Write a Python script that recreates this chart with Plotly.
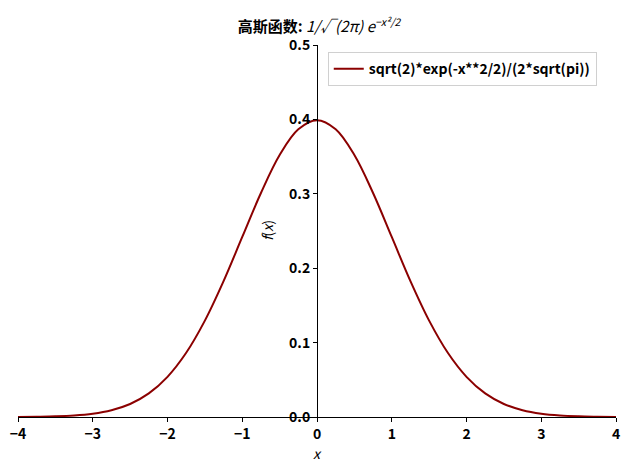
import plotly.graph_objects as go

# Points
x_vals = [-4.0, -3.75, -3.5, -3.25, -3.0, -2.75, -2.5, -2.25, -2.0, -1.75, -1.5, -1.25, -1.0,
          -0.75, -0.5, -0.25, 0.0, 0.25, 0.5, 0.75, 1.0, 1.25, 1.5, 1.75, 2.0, 2.25, 2.5,
          2.75, 3.0, 3.25, 3.5, 3.75, 4.0]
y_vals = [0.0001, 0.0004, 0.0009, 0.002, 0.0044, 0.0091, 0.0175, 0.0317, 0.054, 0.0863,
          0.1295, 0.1826, 0.242, 0.3011, 0.3521, 0.3867, 0.3989, 0.3867, 0.3521, 0.3011,
          0.242, 0.1826, 0.1295, 0.0863, 0.054, 0.0317, 0.0175, 0.0091, 0.0044, 0.002,
          0.0009, 0.0004, 0.0001]
x_ticks = [-4, -3, -2, -1, 0, 1, 2, 3, 4]
y_ticks = [0.0, 0.1, 0.2, 0.3, 0.4, 0.5]
series_name = "sqrt(2)*exp(-x**2/2)/(2*sqrt(pi))"

font_family = "Noto Sans CJK SC"

fig = go.Figure()
fig.add_trace(go.Scatter(
    x=x_vals, y=y_vals, mode="lines", line=dict(color="#8B0000", width=2, shape="spline"),
    name=series_name,
))

# page body has an 8px margin, so the figure is a bit smaller than the window
fig.update_layout(
    width=622, height=462,
    margin=dict(l=10, r=14, t=37, b=53, autoexpand=False),
    paper_bgcolor="white", plot_bgcolor="white",
    font=dict(family=font_family, size=13, color="black"),
    showlegend=True,
    title=dict(
        text="<b>高斯函数:</b> <i>1/√(2π) e<sup>−x²/2</sup></i>",
        x=0.5, xanchor="center", y=0.959, yanchor="middle",
        font=dict(size=15),
    ),
    legend=dict(
        x=0.518, y=0.981, xanchor="left", yanchor="top",
        bgcolor="white", bordercolor="#d0d0d0", borderwidth=1,
        font=dict(size=14, weight="bold"),
    ),
    xaxis=dict(
        range=[-4, 4], tickvals=x_ticks, showgrid=False, zeroline=False,
        showline=True, linecolor="black", linewidth=1, automargin=False,
        ticks="outside", ticklen=4, tickcolor="black",
        tickfont=dict(size=14, weight="bold"),
    ),
    yaxis=dict(
        range=[0, 0.5], tickvals=y_ticks, tickformat=".1f", showgrid=False, zeroline=False,
        showline=True, linecolor="black", linewidth=1, automargin=False,
        anchor="free", position=0.5,
        ticks="outside", ticklen=4, tickcolor="black",
        tickfont=dict(size=14, weight="bold"),
    ),
    annotations=[
        dict(text="<i>x</i>", x=0.5, y=0, xref="paper", yref="paper",
             yanchor="top", yshift=-24, showarrow=False, font=dict(size=14)),
        dict(text="<i>f</i>(<i>x</i>)", x=0.5, y=0.5, xref="paper", yref="paper",
             xanchor="right", xshift=-38, textangle=-90, showarrow=False,
             font=dict(size=14)),
    ],
)

fig.write_html("out.html")
